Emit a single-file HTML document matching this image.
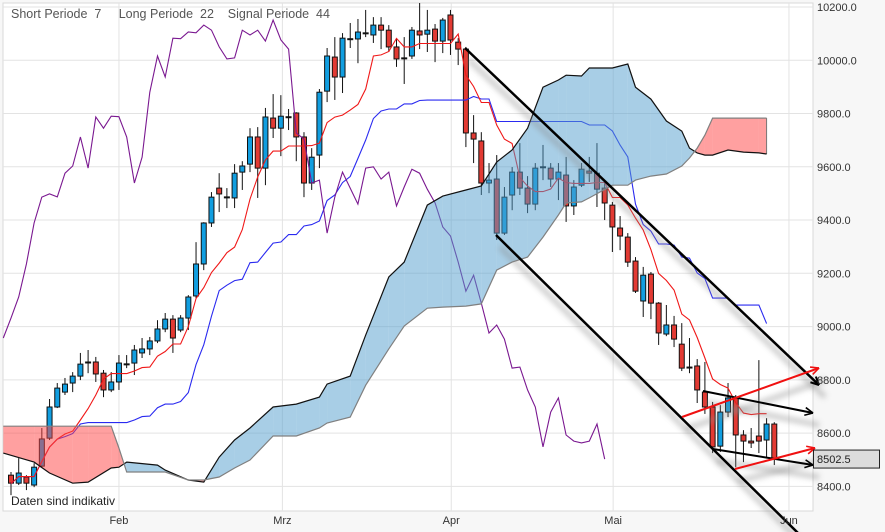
<!DOCTYPE html>
<html><head><meta charset="utf-8"><style>
html,body{margin:0;padding:0;background:#fff;}
svg{display:block;font-family:"Liberation Sans",Arial,sans-serif;}
</style></head><body>
<svg id="chart" width="885" height="532" viewBox="0 0 885 532" xmlns="http://www.w3.org/2000/svg">
<defs><filter id="blur" x="-20%" y="-50%" width="140%" height="200%"><feGaussianBlur stdDeviation="3"/></filter></defs>
<rect x="0" y="0" width="885" height="532" fill="#f7f7f7"/>
<rect x="3" y="3" width="810" height="508" fill="#ffffff" stroke="#d8d8d8"/>
<g id="grid"></g>
<g id="candles"></g>
<g id="lines"></g>
<g id="cloud"></g>
<g id="trend"></g>
<g id="axes"></g>
<text x="11" y="18" font-size="12.5" fill="#555" xml:space="preserve">Short Periode  7     Long Periode  22    Signal Periode  44</text>
<text x="11" y="505" font-size="12" fill="#222">Daten sind indikativ</text>
</svg>
<script>
const opens=[8442,8412,8435,8405,8476,8581,8698,8754,8788,8814,8867,8867,8825,8762,8792,8858,8863,8901,8916,8946,8991,9028,8987,9032,9115,9235,9389,9520,9486,9483,9580,9610,9712,9595,9783,9745,9787,9802,9712,9539,9644,9884,10012,9937,10080,10080,10102,10095,10132,10113,10050,10008,10016,10110,10098,10117,10072,10170,10068,10042,9727,9697,9539,9554,9351,9494,9580,9520,9460,9599,9595,9554,9569,9453,9531,9584,9576,9520,9456,9370,9336,9246,9096,9197,9088,8972,9006,8934,8844,8852,8754,8698,8551,8679,8732,8593,8570,8589,8574,8634];
const closes=[8412,8450,8412,8472,8578,8698,8769,8784,8814,8859,8865,8822,8762,8792,8863,8860,8912,8916,8946,8991,9028,8957,9032,9111,9235,9389,9486,9498,9487,9576,9603,9712,9595,9787,9745,9790,9788,9712,9539,9636,9880,10016,9937,10083,10081,10106,10103,10132,10113,10050,10005,10009,10113,10095,10113,10072,10151,10076,10042,9727,9704,9539,9550,9351,9486,9580,9520,9460,9595,9600,9554,9580,9453,9524,9591,9576,9516,9464,9374,9340,9242,9133,9193,9088,8976,9006,8953,8844,8848,8762,8698,8548,8679,8732,8593,8570,8563,8570,8634,8502.5];
const highs=[8454,8506,8442,8487,8619,8728,8788,8807,8829,8901,8912,8886,8837,8829,8893,8893,8931,8957,8961,9024,9051,9043,9043,9118,9317,9392,9505,9576,9520,9610,9621,9745,9749,9821,9873,9869,9817,9805,9730,9670,9892,10046,10087,10102,10140,10155,10189,10162,10162,10132,10080,10087,10125,10215,10189,10136,10159,10189,10083,10050,9794,9730,9614,9644,9524,9599,9689,9565,9614,9682,9614,9614,9637,9550,9614,9637,9689,9550,9468,9415,9351,9261,9224,9205,9092,9081,9040,9013,8957,8878,8867,8717,8705,8788,8743,8611,8619,8874,8656,8641];
const lows=[8367,8405,8386,8397,8472,8574,8694,8743,8754,8799,8825,8792,8735,8754,8762,8844,8818,8882,8893,8938,8979,8901,8979,8987,9107,9212,9374,9430,9445,9445,9513,9580,9483,9531,9708,9640,9738,9621,9486,9513,9595,9843,9851,9877,10046,9989,10087,10065,10042,10031,9975,9911,10005,10042,10031,9993,10027,10020,9982,9674,9614,9494,9501,9325,9344,9437,9494,9426,9437,9550,9524,9475,9393,9419,9524,9543,9449,9400,9280,9287,9224,9126,9036,9028,8931,8964,8923,8833,8825,8713,8672,8525,8529,8660,8472,8491,8544,8525,8510,8480];
const cloudIdx=[-1,3,5,8,10,13,14,15,19,20,23,25,27,29,31,34,37,40,41,44,46,49,51,54,56,59,61,63,65,67,69,71,72,74,75,78,80,81,83,85,87,88,89,90,91,93,95,97,98];
const spanA=[8525,8491,8450,8412,8416,8469,8472,8491,8480,8461,8424,8416,8510,8574,8619,8698,8709,8735,8784,8814,8968,9186,9242,9456,9490,9513,9528,9618,9663,9745,9899,9926,9944,9941,9971,9971,9986,9899,9854,9772,9734,9670,9652,9644,9644,9663,9655,9652,9648];
const spanB=[8626,8626,8626,8626,8626,8626,8544,8454,8454,8454,8424,8424,8435,8469,8499,8589,8589,8619,8638,8660,8780,8916,9002,9069,9073,9077,9085,9212,9242,9261,9336,9419,9464,9468,9483,9531,9531,9550,9565,9573,9603,9633,9670,9719,9783,9783,9783,9783,9783];
const yTicks=[8400,8600,8800,9000,9200,9400,9600,9800,10000,10200];
const monthLabels=["Feb","Mrz","Apr","Mai","Jun"];
const monthIdx=[14,35.2,57.1,78.1,100.9];
const lastPrice=8502.5;

const NS="http://www.w3.org/2000/svg";
function X(i){return 11+i*7.71;}
function Y(v){return 7+(10200-v)*0.26631;}
function mk(tag,attrs,parent){const e=document.createElementNS(NS,tag);for(const k in attrs)e.setAttribute(k,attrs[k]);parent.appendChild(e);return e;}
const grid=document.getElementById('grid'),cg=document.getElementById('candles'),lg=document.getElementById('lines'),cl=document.getElementById('cloud'),tg=document.getElementById('trend'),ax=document.getElementById('axes');

yTicks.forEach(v=>{
  const l=mk('line',{x1:3,x2:813,y1:Y(v),y2:Y(v),stroke:'#e3e3e3','stroke-width':1},grid);
  
  
  const t=mk('text',{x:817,y:Y(v)+4,'font-size':11,fill:'#333'},ax);
  t.textContent=v.toFixed(1);
  
  
});
monthIdx.forEach((m,k)=>{
  const l=mk('line',{x1:X(m),x2:X(m),y1:3,y2:511,stroke:'#e3e3e3','stroke-width':1},grid);
  
  
  const t=mk('text',{x:X(m),y:524,'font-size':11,fill:'#333','text-anchor':'middle'},ax);
  t.textContent=monthLabels[k];
  
  
});

// candles
for(let i=0;i<opens.length;i++){
  const x=X(i),o=opens[i],c=closes[i];
  const g=mk('g',{},cg);
  
  
  mk('line',{x1:x,x2:x,y1:Y(highs[i]),y2:Y(lows[i]),stroke:'#111','stroke-width':1},g);
  const top=Y(Math.max(o,c)),bot=Y(Math.min(o,c));
  if(bot-top<1.5){mk('rect',{x:x-3,y:top-0.5,width:6,height:2,fill:'#111'},g);}
  else mk('rect',{x:x-2.5,y:top,width:5,height:bot-top,fill:c>=o?'#119ee0':'#e23a33',stroke:'#111','stroke-width':1},g);
}

// indicator lines
function midline(p,i){let h=-1e9,l=1e9;for(let k=Math.max(0,i-p+1);k<=i;k++){h=Math.max(h,highs[k]);l=Math.min(l,lows[k]);}return (h+l)/2;}
function poly(pts,color,name){
  const p=mk('polyline',{points:pts.map(q=>q[0].toFixed(1)+','+q[1].toFixed(1)).join(' '),fill:'none',stroke:color,'stroke-width':1.1},lg);
  
  
}
const nLine=Math.min(opens.length,99);
const ten=[],kij=[],chk=[];
for(let i=0;i<nLine;i++){ten.push([X(i),Y(midline(7,i))]);kij.push([X(i),Y(midline(22,i))]);}
for(let i=-1;i+22<closes.length;i++)chk.push([X(i),Y(closes[i+22])]);
poly(kij,'#2a2af0','kijun-line');
poly(ten,'#f01818','tenkan-line');
poly(chk,'#7a1890','chikou-line');

// cloud
for(let k=0;k<cloudIdx.length-1;k++){
  const x0=X(cloudIdx[k]),x1=X(cloudIdx[k+1]);
  const a0=spanA[k],a1=spanA[k+1],b0=spanB[k],b1=spanB[k+1];
  const d0=a0-b0,d1=a1-b1;
  const col=d=>d>=0?'rgba(81,157,205,0.5)':'rgba(255,66,66,0.5)';
  const add=(pts,d)=>{const p=mk('polygon',{points:pts.map(q=>q[0].toFixed(1)+','+q[1].toFixed(1)).join(' '),fill:col(d)},cl);
    
    };
  if(d0*d1>=0){add([[x0,Y(a0)],[x1,Y(a1)],[x1,Y(b1)],[x0,Y(b0)]],d0+d1);}
  else{const t=d0/(d0-d1),xm=x0+(x1-x0)*t,vm=a0+(a1-a0)*t;
    add([[x0,Y(a0)],[xm,Y(vm)],[x0,Y(b0)]],d0);
    add([[xm,Y(vm)],[x1,Y(a1)],[x1,Y(b1)]],d1);}
}
const last=cloudIdx.length-1;
const edge=mk('line',{x1:X(cloudIdx[last]),x2:X(cloudIdx[last]),y1:Y(spanA[last]),y2:Y(spanB[last]),stroke:'#777','stroke-width':1},cl);


const pa=mk('polyline',{points:cloudIdx.map((c,k)=>X(c).toFixed(1)+','+Y(spanA[k]).toFixed(1)).join(' '),fill:'none',stroke:'#111','stroke-width':1.2},cl);


const pb=mk('polyline',{points:cloudIdx.map((c,k)=>X(c).toFixed(1)+','+Y(spanB[k]).toFixed(1)).join(' '),fill:'none',stroke:'#808080','stroke-width':1.2},cl);



// trendlines (drawn annotations, pixel coords)
const tl=[
 {p:[465,48,819,385],c:'#000',w:2.5,a:true,n:'channel-upper'},
 {p:[496,235,800,535],c:'#000',w:2.5,a:false,n:'channel-lower'},
 {p:[703,391,813,413],c:'#000',w:2,a:true,n:'wedge-upper-line'},
 {p:[713,449,813,465],c:'#000',w:2,a:true,n:'wedge-lower-line'},
 {p:[682,417,819,368],c:'#f01010',w:2,a:true,n:'red-trend-upper'},
 {p:[735,469,815,448],c:'#f01010',w:2,a:true,n:'red-trend-lower'}];
tl.forEach(t=>{const [x1,y1,x2,y2]=t.p;
  mk('line',{x1:x1+4,y1:y1+12,x2:x2+6,y2:y2+12,stroke:'#888','stroke-width':5,opacity:0.45,filter:'url(#blur)'},tg);});
tl.forEach(t=>{const [x1,y1,x2,y2]=t.p;
  const g=mk('g',{},tg);
  
  
  mk('line',{x1,y1,x2,y2,stroke:t.c,'stroke-width':t.w},g);
  if(t.a){const ang=Math.atan2(y2-y1,x2-x1),L=9;
    [0.45,-0.45].forEach(d=>mk('line',{x1:x2,y1:y2,x2:x2-L*Math.cos(ang+d),y2:y2-L*Math.sin(ang+d),stroke:t.c,'stroke-width':t.w*0.8},g));}
});

// last price box
const lb=mk('rect',{x:813.5,y:Y(lastPrice)-9,width:66,height:18,fill:'#dcdcdc',stroke:'#222','stroke-width':1},ax);


const lt=mk('text',{x:817,y:Y(lastPrice)+4,'font-size':11,fill:'#222'},ax);
lt.textContent=lastPrice.toFixed(1);


</script>
</body></html>
